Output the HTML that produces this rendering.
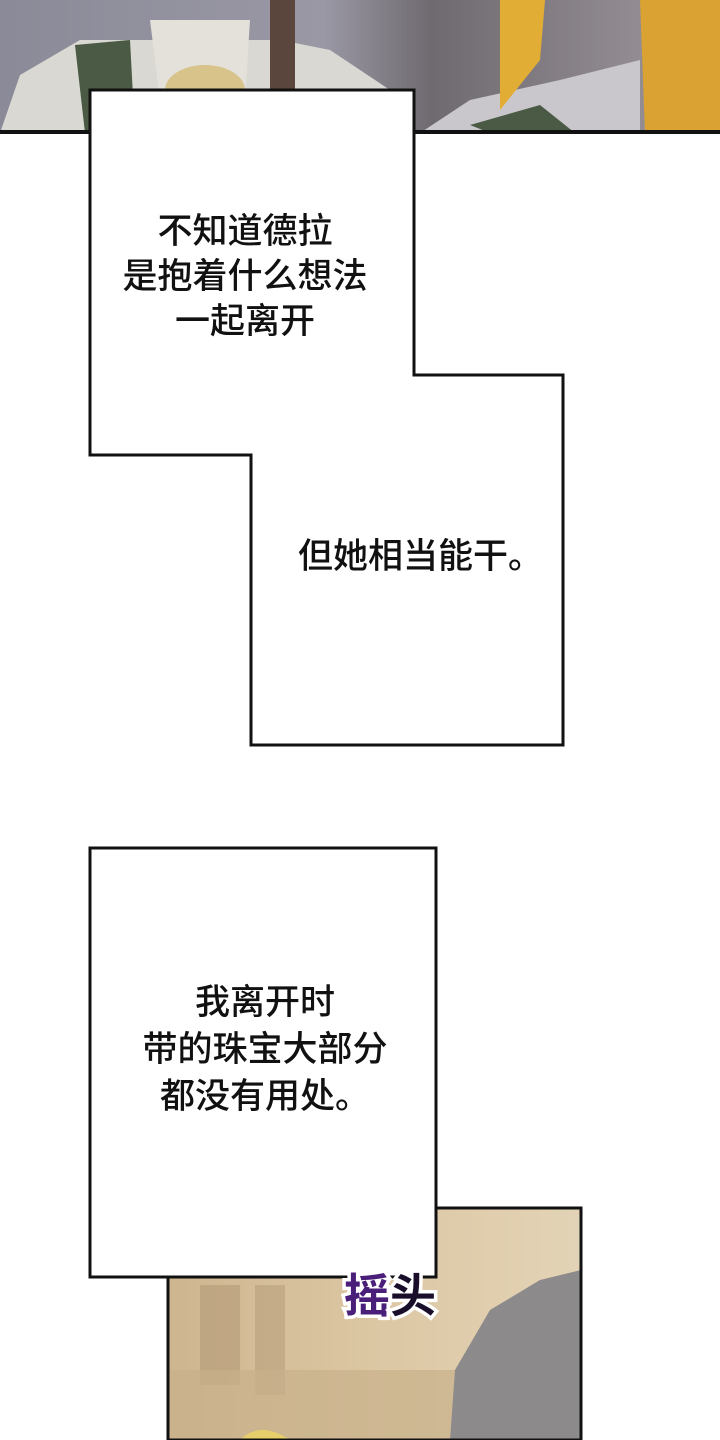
<!DOCTYPE html>
<html><head><meta charset="utf-8"><style>
html,body{margin:0;padding:0;background:#fff;}
body{width:720px;height:1440px;position:relative;overflow:hidden;font-family:"Liberation Sans","Noto Sans CJK SC",sans-serif;}
.t{position:absolute;font-size:35px;font-weight:500;color:#111;text-align:center;white-space:nowrap;font-family:"Noto Sans CJK SC",sans-serif;}
</style></head><body>
<svg width="720" height="1440" style="position:absolute;left:0;top:0">
<defs>
<linearGradient id="tg" x1="0" x2="1" y1="0" y2="0">
<stop offset="0" stop-color="#8a8a98"/><stop offset="0.45" stop-color="#9a98a4"/><stop offset="0.6" stop-color="#6f6a70"/><stop offset="1" stop-color="#a09aa0"/>
</linearGradient>
<linearGradient id="bg" x1="0" x2="1" y1="0" y2="0">
<stop offset="0" stop-color="#cdb58f"/><stop offset="0.5" stop-color="#dcc7a3"/><stop offset="1" stop-color="#e3d3b6"/>
</linearGradient>
</defs>
<rect x="0" y="0" width="720" height="133" fill="url(#tg)"/>
<path d="M0 133 L20 75 L80 40 L280 40 L330 50 L390 90 L400 133Z" fill="#d9d8d2"/>
<path d="M75 45 L130 40 L135 133 L85 133Z" fill="#4a5a44"/>
<rect x="270" y="0" width="25" height="133" fill="#5a463c"/>
<path d="M420 133 L470 100 L560 80 L640 60 L640 133Z" fill="#c9c7cc"/>
<path d="M470 125 L540 105 L575 133 L490 133Z" fill="#4a5a44"/>
<path d="M500 0 L545 0 L540 60 L500 110 Z" fill="#e2ad35"/>
<path d="M640 0 L720 0 L720 133 L645 133 Z" fill="#d9a232"/>
<path d="M150 20 L250 20 L245 100 L160 100Z" fill="#e3e1da"/>
<ellipse cx="205" cy="90" rx="40" ry="25" fill="#d8c38a"/>
<rect x="0" y="130" width="720" height="4" fill="#111"/>
<path d="M168 1277 L436 1277 L436 1208 L581 1208 L581 1440 L168 1440Z" fill="url(#bg)"/>
<rect x="200" y="1285" width="40" height="100" fill="#b49a78" opacity="0.6"/>
<rect x="255" y="1285" width="30" height="110" fill="#b49a78" opacity="0.5"/>
<rect x="168" y="1370" width="413" height="70" fill="#c8b08a" opacity="0.7"/>
<path d="M450 1440 L455 1370 L490 1310 L540 1280 L581 1270 L581 1440Z" fill="#8d8a8c"/>
<path d="M240 1440 Q260 1420 290 1440Z" fill="#e6cf6a"/>
<path d="M168 1277 L436 1277 L436 1208 L581 1208 L581 1440 L168 1440Z" fill="none" stroke="#111" stroke-width="3"/>
<path d="M90 90 L414 90 L414 375 L563 375 L563 745 L251 745 L251 455 L90 455 Z" fill="#fff" stroke="#111" stroke-width="3"/>
<rect x="90" y="848" width="346" height="429" fill="#fff" stroke="#111" stroke-width="3"/>
<text x="390" y="1312" font-size="46" font-weight="bold" fill="#4a1f7a" stroke="#fff" stroke-width="7" paint-order="stroke" text-anchor="middle" font-family="Noto Sans CJK SC,sans-serif">摇<tspan fill="#1a0f2a">头</tspan></text>
</svg>
<div class="t" style="left:45px;width:400px;top:206px;line-height:45px;">不知道德拉<br>是抱着什么想法<br>一起离开</div>
<div class="t" style="left:298px;top:531px;line-height:45px;text-align:left;">但她相当能干。</div>
<div class="t" style="left:65px;width:400px;top:976px;line-height:47px;">我离开时<br>带的珠宝大部分<br>都没有用处。</div>
</body></html>
